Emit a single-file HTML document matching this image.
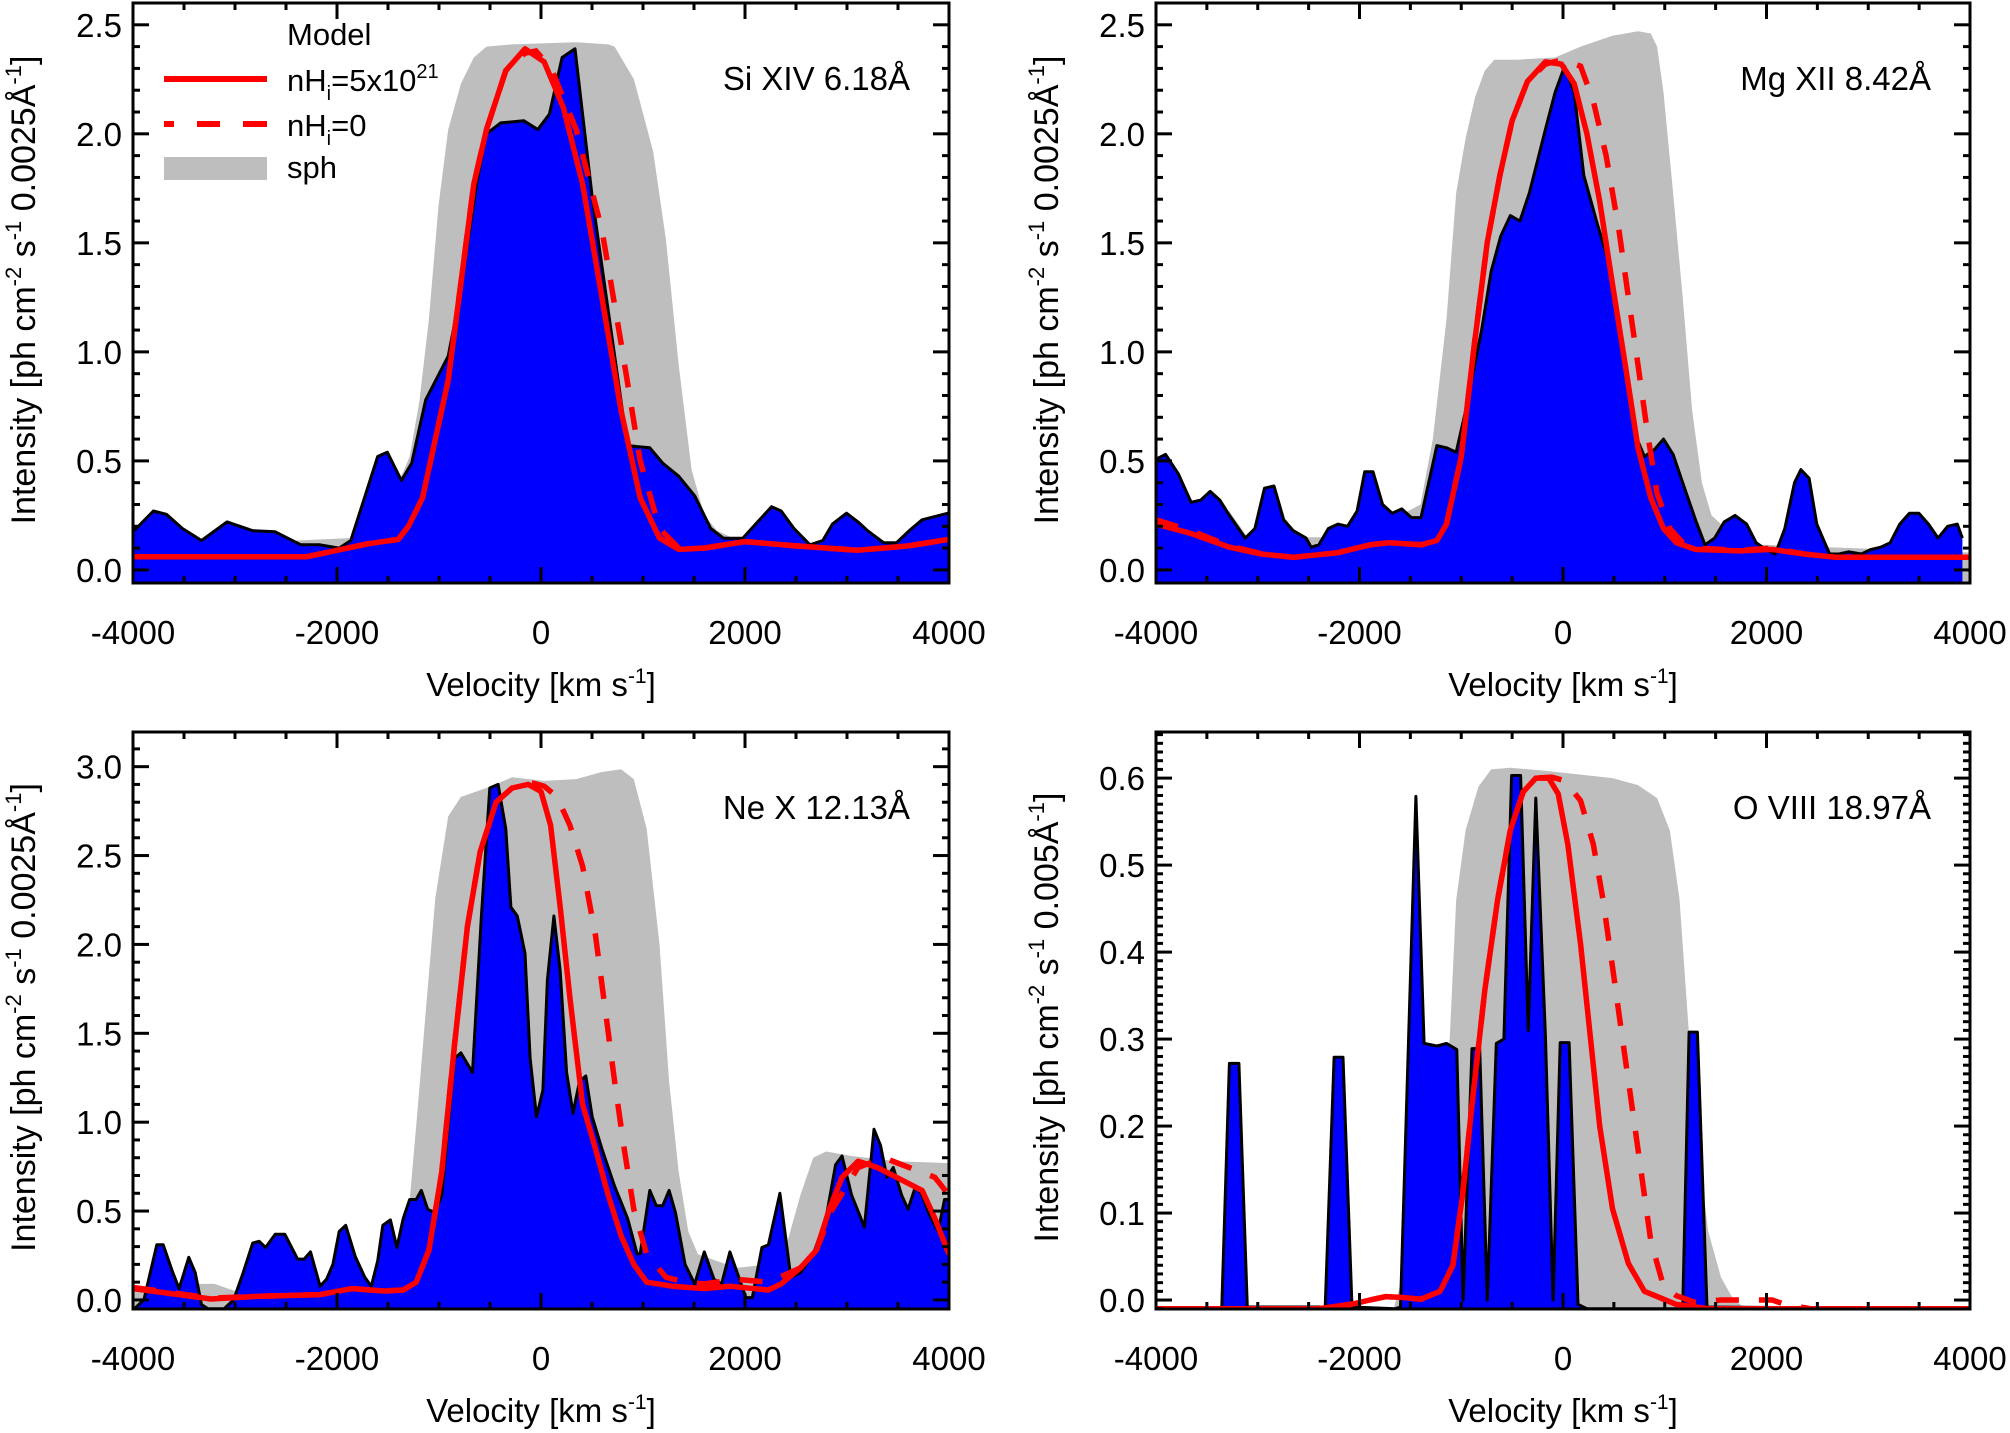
<!DOCTYPE html>
<html><head><meta charset="utf-8"><style>
html,body{margin:0;padding:0;background:#fff;}
svg{display:block;font-family:"Liberation Sans",Arial,sans-serif;}
</style></head><body>
<svg id="fig" width="2010" height="1433" viewBox="0 0 2010 1433" xmlns="http://www.w3.org/2000/svg"></svg>
<script>
// ---------- Panel 1: Si XIV ----------
const p1ObsV=[-3990,-3800,-3673,-3516,-3328,-3077,-2826,-2606,-2355,-2167,-1978,-1865,-1601,-1507,-1369,-1268,-1130,-910,-797,-628,-534,-396,-170,-31,82,207,333,502,659,847,1067,1193,1350,1507,1664,1790,1978,2104,2261,2355,2480,2637,2763,2857,2995,3108,3202,3359,3485,3610,3736,3990];
const p1ObsI=[0.18,0.27,0.255,0.19,0.135,0.22,0.18,0.175,0.115,0.115,0.1,0.135,0.52,0.54,0.41,0.49,0.78,0.98,1.25,1.78,2.0,2.05,2.06,2.02,2.09,2.35,2.39,1.71,1.19,0.57,0.56,0.49,0.43,0.34,0.19,0.145,0.145,0.21,0.29,0.27,0.19,0.115,0.135,0.21,0.26,0.22,0.18,0.125,0.125,0.18,0.23,0.26];
const p1SphV=[-4000,-1700,-1350,-1287,-1193,-1099,-1005,-910,-785,-659,-534,-283,345,659,722,911,1099,1224,1350,1476,1601,1727,2000,4000];
const p1SphI=[0.1,0.15,0.45,0.52,0.77,1.15,1.67,2.02,2.23,2.35,2.4,2.41,2.42,2.41,2.4,2.25,1.92,1.52,0.94,0.46,0.25,0.18,0.12,0.1];
const p1SolV=[-4000,-2300,-2000,-1700,-1400,-1300,-1162,-910,-659,-534,-345,-157,31,220,408,597,785,973,1162,1350,1600,2000,2500,3100,3600,4000];
const p1SolI=[0.06,0.06,0.09,0.12,0.14,0.2,0.33,0.87,1.77,2.02,2.29,2.39,2.33,2.12,1.77,1.25,0.73,0.33,0.146,0.094,0.1,0.13,0.11,0.09,0.11,0.14];
const p1DashV=[-4000,-2300,-2000,-1700,-1400,-1300,-1162,-910,-659,-534,-345,-157,-50,100,345,597,785,973,1162,1350,1600,2000,2500,3100,3600,4000];
const p1DashI=[0.06,0.06,0.09,0.12,0.14,0.2,0.33,0.87,1.77,2.02,2.29,2.37,2.38,2.3,2.02,1.56,1.04,0.5,0.19,0.1,0.1,0.13,0.11,0.09,0.11,0.14];
// ---------- Panel 2: Mg XII ----------
const p2ObsV=[-3990,-3906,-3780,-3655,-3561,-3467,-3373,-3279,-3122,-3028,-2934,-2840,-2745,-2651,-2525,-2475,-2400,-2306,-2212,-2118,-2024,-1949,-1867,-1773,-1679,-1584,-1490,-1396,-1239,-1145,-1050,-957,-800,-706,-612,-518,-424,-330,-173,-78,16,110,204,329,455,580,706,800,894,988,1082,1176,1302,1396,1490,1584,1691,1804,1898,1992,2086,2180,2275,2338,2419,2494,2620,2714,2808,2933,3028,3122,3216,3310,3404,3498,3592,3686,3780,3875,3925];
const p2ObsI=[0.51,0.53,0.44,0.31,0.32,0.36,0.32,0.25,0.146,0.19,0.375,0.385,0.23,0.18,0.146,0.104,0.115,0.19,0.21,0.2,0.27,0.45,0.45,0.3,0.26,0.28,0.24,0.24,0.57,0.56,0.54,0.73,1.1,1.37,1.53,1.625,1.6,1.73,2.02,2.19,2.31,2.19,1.81,1.6,1.4,1.04,0.625,0.52,0.55,0.6,0.53,0.4,0.23,0.115,0.146,0.22,0.25,0.21,0.125,0.094,0.073,0.19,0.4,0.46,0.42,0.21,0.073,0.073,0.083,0.073,0.094,0.104,0.125,0.21,0.26,0.26,0.21,0.146,0.2,0.21,0.146];
const p2SphV=[-4000,-3500,-3280,-3100,-2000,-1400,-1280,-1145,-1050,-957,-863,-769,-675,-455,-78,173,486,737,863,925,988,1082,1176,1270,1365,1459,1553,1700,4000];
const p2SphI=[0.15,0.2,0.27,0.15,0.15,0.3,0.6,1.15,1.73,1.98,2.17,2.29,2.34,2.34,2.35,2.4,2.45,2.47,2.46,2.4,2.19,1.73,1.25,0.73,0.4,0.25,0.21,0.12,0.08];
const p2SolV=[-4000,-3655,-3279,-2965,-2651,-2212,-1898,-1710,-1396,-1239,-1145,-1000,-870,-745,-620,-500,-350,-173,-16,110,235,361,486,612,737,863,988,1114,1302,1741,2055,2369,2683,4000];
const p2SolI=[0.21,0.167,0.104,0.073,0.058,0.079,0.115,0.125,0.115,0.135,0.21,0.52,1.04,1.5,1.81,2.06,2.24,2.33,2.32,2.23,2.0,1.69,1.31,0.94,0.56,0.33,0.19,0.125,0.094,0.087,0.094,0.073,0.058,0.058];
const p2DashV=[-4000,-3655,-3279,-2965,-2651,-2212,-1898,-1710,-1396,-1239,-1145,-1000,-870,-745,-620,-500,-350,-173,0,173,298,424,549,643,737,831,925,1050,1176,1302,1741,2055,2369,2683,4000];
const p2DashI=[0.23,0.18,0.11,0.075,0.058,0.079,0.115,0.125,0.115,0.135,0.21,0.52,1.04,1.5,1.81,2.06,2.24,2.32,2.34,2.31,2.15,1.9,1.56,1.25,0.94,0.625,0.35,0.19,0.125,0.1,0.09,0.1,0.073,0.058,0.058];
// ---------- Panel 3: Ne X ----------
const p3ObsV=[-3987,-3893,-3767,-3704,-3610,-3548,-3453,-3390,-3328,-3265,-3108,-3014,-2920,-2826,-2763,-2700,-2606,-2512,-2386,-2323,-2260,-2166,-2103,-2040,-1978,-1915,-1821,-1727,-1664,-1601,-1551,-1476,-1413,-1350,-1287,-1224,-1174,-1111,-1036,-973,-910,-847,-785,-672,-584,-502,-421,-345,-295,-232,-157,-107,-44,19,63,126,188,251,314,377,439,502,597,722,848,942,973,1067,1130,1193,1256,1319,1413,1507,1601,1696,1771,1852,1946,2009,2072,2166,2229,2342,2449,2543,2669,2794,2888,2951,3045,3171,3265,3328,3391,3454,3535,3598,3673,3736,3799,3893,3956,3987];
const p3ObsI=[-0.05,0,0.31,0.31,0.154,0.064,0.24,0.154,-0.026,-0.05,-0.05,0,0.154,0.32,0.33,0.295,0.37,0.37,0.23,0.23,0.27,0.077,0.116,0.2,0.385,0.42,0.244,0.128,0.077,0.22,0.42,0.45,0.295,0.46,0.565,0.565,0.616,0.51,0.49,0.59,0.98,1.36,1.39,1.28,2.16,2.88,2.9,2.65,2.21,2.16,1.95,1.36,1.03,1.18,1.8,2.16,1.85,1.28,1.05,1.23,1.26,1.03,0.85,0.64,0.46,0.26,0.26,0.616,0.53,0.53,0.616,0.49,0.2,0.09,0.27,0.116,0.09,0.27,0.116,0.013,0.013,0.295,0.31,0.6,0.128,0.154,0.257,0.46,0.76,0.81,0.59,0.41,0.96,0.87,0.69,0.745,0.59,0.51,0.64,0.59,0.49,0.385,0.565,0.565];
const p3SphV=[-4000,-3450,-3359,-3200,-3000,-1500,-1287,-1224,-1130,-1036,-910,-785,-534,-283,31,345,597,785,910,1036,1162,1256,1350,1444,1539,1915,2229,2417,2543,2669,2794,3045,3485,4000];
const p3SphI=[0.06,0.06,0.09,0.09,0.05,0.1,0.56,0.98,1.62,2.26,2.72,2.83,2.88,2.94,2.92,2.93,2.97,2.985,2.93,2.65,2.0,1.23,0.72,0.385,0.257,0.18,0.2,0.33,0.59,0.8,0.835,0.81,0.78,0.77];
const p3SolV=[-4000,-3673,-3234,-2794,-2166,-1852,-1539,-1350,-1224,-1099,-973,-847,-722,-597,-440,-283,-126,0,94,188,283,408,534,659,785,910,1036,1287,1601,1852,2229,2355,2543,2700,2826,2951,3108,3297,3485,3736,3861,4000];
const p3SolI=[0.064,0.039,0.005,0.02,0.03,0.064,0.05,0.056,0.1,0.28,0.72,1.44,2.1,2.52,2.8,2.88,2.9,2.86,2.67,2.21,1.7,1.1,0.85,0.59,0.36,0.2,0.1,0.077,0.064,0.077,0.056,0.09,0.18,0.28,0.51,0.69,0.78,0.745,0.69,0.616,0.46,0.257];
const p3DashV=[-4000,-3673,-3234,-2794,-2166,-1852,-1539,-1350,-1224,-1099,-973,-847,-722,-597,-440,-283,-94,31,157,283,408,534,628,722,816,910,1036,1225,1413,1601,1915,2229,2543,2700,2857,3108,3359,3610,3861,4000];
const p3DashI=[0.07,0.045,0.01,0.02,0.03,0.064,0.05,0.056,0.1,0.28,0.72,1.44,2.1,2.52,2.8,2.88,2.91,2.89,2.83,2.67,2.44,2.05,1.64,1.23,0.85,0.51,0.257,0.128,0.1,0.09,0.116,0.1,0.18,0.28,0.51,0.745,0.8,0.745,0.69,0.59];
// ---------- Panel 4: O VIII ----------
const p4ObsV=[-4000,-3400,-3353,-3279,-3185,-3103,-2337,-2250,-2162,-2074,-1647,-1597,-1446,-1365,-1239,-1145,-1044,-982,-894,-819,-744,-656,-581,-505,-417,-342,-267,-173,-97,-28,60,147,235,1176,1239,1321,1415,4000];
const p4ObsI=[-0.01,-0.01,-0.008,0.272,0.272,-0.008,-0.008,0.279,0.279,-0.008,-0.01,-0.008,0.579,0.295,0.292,0.295,0.288,0,0.289,0.289,0,0.295,0.3,0.603,0.603,0.31,0.577,0.304,0,0.296,0.296,-0.005,-0.01,-0.01,0.308,0.308,-0.008,-0.01];
const p4SphV=[-4000,-1700,-1660,-1400,-1114,-1050,-957,-831,-706,-518,-141,486,737,925,1050,1145,1208,1302,1427,1553,1678,1804,4000];
const p4SphI=[-0.01,-0.01,-0.008,0.1,0.3,0.46,0.54,0.59,0.61,0.612,0.608,0.6,0.592,0.577,0.54,0.461,0.356,0.2,0.079,0.026,0,-0.01,-0.01];
const p4SolV=[-4000,-2400,-2086,-1898,-1741,-1584,-1396,-1208,-1082,-988,-894,-769,-643,-518,-392,-267,-141,-47,47,173,267,361,486,643,800,1114,1427,4000];
const p4SolI=[-0.01,-0.01,-0.005,0,0.004,0.003,0.001,0.01,0.04,0.12,0.225,0.356,0.46,0.54,0.584,0.6,0.6,0.582,0.524,0.409,0.304,0.2,0.105,0.042,0.01,-0.005,-0.01,-0.01];
const p4DashV=[-4000,-2400,-2086,-1898,-1741,-1584,-1396,-1208,-1082,-988,-894,-769,-643,-518,-392,-267,-110,16,173,298,392,486,580,675,769,863,988,1114,1302,1553,1804,2055,2180,2431,4000];
const p4DashI=[-0.01,-0.01,-0.005,0,0.004,0.003,0.001,0.01,0.04,0.12,0.225,0.356,0.46,0.54,0.584,0.6,0.601,0.597,0.574,0.524,0.461,0.383,0.304,0.225,0.147,0.068,0.016,0.005,-0.003,0,0,0,-0.005,-0.01,-0.01];

const xTickLabels=["-4000","-2000","0","2000","4000"];
const xTickValues=[-4000,-2000,0,2000,4000];

const NS="http://www.w3.org/2000/svg";
const svg=document.getElementById('fig');
function mk(tag,attrs,parent){const e=document.createElementNS(NS,tag);for(const k in attrs)e.setAttribute(k,attrs[k]);(parent||svg).appendChild(e);return e;}

const panels=[
 {key:'si-xiv',x0:133,x1:949,y0:3,y1:583,ymin:-0.06,ymax:2.6,major:0.5,minor:0.1,dec:1,label:'Si XIV 6.18Å',unit:'0.0025',obsV:p1ObsV,obsI:p1ObsI,sphV:p1SphV,sphI:p1SphI,solV:p1SolV,solI:p1SolI,dashV:p1DashV,dashI:p1DashI,legend:true},
 {key:'mg-xii',x0:1156,x1:1970,y0:3,y1:583,ymin:-0.06,ymax:2.6,major:0.5,minor:0.1,dec:1,label:'Mg XII 8.42Å',unit:'0.0025',obsV:p2ObsV,obsI:p2ObsI,sphV:p2SphV,sphI:p2SphI,solV:p2SolV,solI:p2SolI,dashV:p2DashV,dashI:p2DashI},
 {key:'ne-x',x0:133,x1:949,y0:732,y1:1309,ymin:-0.051,ymax:3.195,major:0.5,minor:0.1,dec:1,label:'Ne X 12.13Å',unit:'0.0025',obsV:p3ObsV,obsI:p3ObsI,sphV:p3SphV,sphI:p3SphI,solV:p3SolV,solI:p3SolI,dashV:p3DashV,dashI:p3DashI},
 {key:'o-viii',x0:1156,x1:1970,y0:732,y1:1309,ymin:-0.0103,ymax:0.653,major:0.1,minor:0.01,dec:1,label:'O VIII 18.97Å',unit:'0.005',obsV:p4ObsV,obsI:p4ObsI,sphV:p4SphV,sphI:p4SphI,solV:p4SolV,solI:p4SolI,dashV:p4DashV,dashI:p4DashI}
];

panels.forEach((p,idx)=>{
  const g=mk('g',{});
  
  
  const X=v=>p.x0+(v+4000)/8000*(p.x1-p.x0);
  const Y=i=>p.y1-(i-p.ymin)/(p.ymax-p.ymin)*(p.y1-p.y0);
  const cid='clip'+idx;
  const cp=mk('clipPath',{id:cid},g);
  mk('rect',{x:p.x0,y:p.y0,width:p.x1-p.x0,height:p.y1-p.y0},cp);
  const plot=mk('g',{'clip-path':'url(#'+cid+')'},g);
  function fillPath(V,I){let d='M'+X(V[0]).toFixed(1)+','+p.y1;for(let k=0;k<V.length;k++)d+=' L'+X(V[k]).toFixed(1)+','+Y(I[k]).toFixed(1);d+=' L'+X(V[V.length-1]).toFixed(1)+','+p.y1+' Z';return d;}
  function linePath(V,I){let d='';for(let k=0;k<V.length;k++)d+=(k?' L':'M')+X(V[k]).toFixed(1)+','+Y(I[k]).toFixed(1);return d;}
  const sph=mk('path',{d:fillPath(p.sphV,p.sphI),fill:'#bebebe',stroke:'none'},plot);
  
  
  const obs=mk('path',{d:fillPath(p.obsV,p.obsI),fill:'#0000ff',stroke:'none'},plot);
  
  
  const obsL=mk('path',{d:linePath(p.obsV,p.obsI),fill:'none',stroke:'#000','stroke-width':3,'stroke-linejoin':'round'},plot);
  
  
  const dl=mk('path',{d:linePath(p.dashV,p.dashI),fill:'none',stroke:'#ff0000','stroke-width':5.5,'stroke-dasharray':'23 20'},plot);
  
  
  const sl=mk('path',{d:linePath(p.solV,p.solI),fill:'none',stroke:'#ff0000','stroke-width':5.5,'stroke-linejoin':'round'},plot);
  
  
  const fr=mk('rect',{x:p.x0,y:p.y0,width:p.x1-p.x0,height:p.y1-p.y0,fill:'none',stroke:'#000','stroke-width':3},g);
  
  
  for(let v=-4000;v<=4000;v+=500){
    const maj=(v%2000===0);const L=maj?16:7;const x=X(v);
    mk('line',{x1:x,y1:p.y1,x2:x,y2:p.y1-L,stroke:'#000','stroke-width':3},g);
    mk('line',{x1:x,y1:p.y0,x2:x,y2:p.y0+L,stroke:'#000','stroke-width':3},g);
  }
  xTickValues.forEach((v,k)=>{
    const t=mk('text',{x:X(v),y:p.y1+61,'font-size':33,'text-anchor':'middle'},g);
    t.textContent=xTickLabels[k];
    
    
  });
  const nMin=Math.round(p.major/p.minor);
  for(let k=Math.ceil(p.ymin/p.minor);k*p.minor<=p.ymax+1e-9;k++){
    const val=k*p.minor;const maj=(k%nMin===0);const L=maj?16:7;const y=Y(val);
    mk('line',{x1:p.x0,y1:y,x2:p.x0+L,y2:y,stroke:'#000','stroke-width':3},g);
    mk('line',{x1:p.x1,y1:y,x2:p.x1-L,y2:y,stroke:'#000','stroke-width':3},g);
    if(maj){
      const t=mk('text',{x:p.x0-11,y:y+12,'font-size':33,'text-anchor':'end'},g);
      t.textContent=val.toFixed(p.dec);
      
      
    }
  }
  const xt=mk('text',{x:(p.x0+p.x1)/2,y:p.y1+113,'font-size':33,'text-anchor':'middle'},g);
  xt.innerHTML='Velocity [km s<tspan dy="-13" font-size="21">-1</tspan><tspan dy="13">]</tspan>';
  
  
  const cy=(p.y0+p.y1)/2-3;const cx=p.x0-98;
  const yt=mk('text',{x:0,y:0,'font-size':34,'text-anchor':'middle',transform:'translate('+cx+','+cy+') rotate(-90)'},g);
  yt.innerHTML='Intensity [ph cm<tspan dy="-14" font-size="22">-2</tspan><tspan dy="14"> s</tspan><tspan dy="-14" font-size="22">-1</tspan><tspan dy="14"> '+p.unit+'Å</tspan><tspan dy="-14" font-size="22">-1</tspan><tspan dy="14">]</tspan>';
  
  
  const lb=mk('text',{x:p.x1-39,y:p.y0+87,'font-size':33,'text-anchor':'end'},g);
  lb.textContent=p.label;
  
  
  if(p.legend){
    const lg=mk('g',{},g);
    
    
    const t0=mk('text',{x:287,y:45,'font-size':31},lg);t0.textContent='Model';
    
    
    const l1=mk('line',{x1:164,y1:79,x2:267,y2:79,stroke:'#ff0000','stroke-width':6},lg);
    
    
    const t1=mk('text',{x:287,y:91,'font-size':31},lg);
    t1.innerHTML='nH<tspan dy="9" font-size="20">i</tspan><tspan dy="-9">=5x10</tspan><tspan dy="-13" font-size="20">21</tspan>';
    
    
    const l2=mk('line',{x1:164,y1:124,x2:267,y2:124,stroke:'#ff0000','stroke-width':6,'stroke-dasharray':'10 23 23 23 24'},lg);
    
    
    const t2=mk('text',{x:287,y:136,'font-size':31},lg);
    t2.innerHTML='nH<tspan dy="9" font-size="20">i</tspan><tspan dy="-9">=0</tspan>';
    
    
    const r3=mk('rect',{x:164,y:157,width:103,height:23,fill:'#bebebe'},lg);
    
    
    const t3=mk('text',{x:287,y:178,'font-size':31},lg);t3.textContent='sph';
    
    
  }
});
</script>
</body></html>
